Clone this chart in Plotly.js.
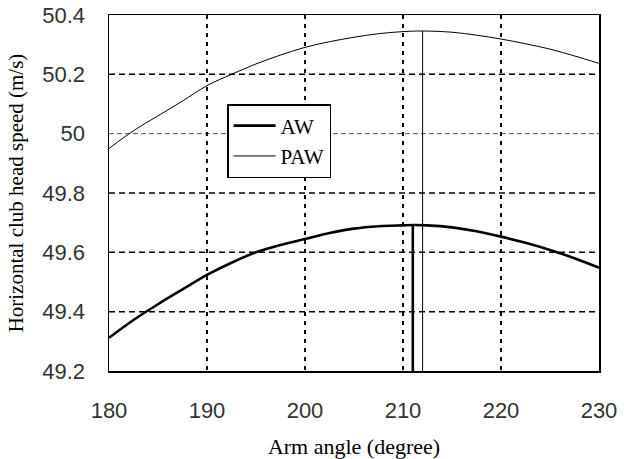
<!DOCTYPE html>
<html>
<head>
<meta charset="utf-8">
<script src="https://cdn.plot.ly/plotly-3.0.1.min.js"></script>
<style>html,body{margin:0;padding:0;background:#fff;}#chart{width:624px;height:459px;}</style>
</head>
<body>
<div id="chart"></div>
<script>
// Arm angle (degree)
const armAngleAW = [180, 182.5, 185, 187.5, 190, 192.5, 195, 197.5, 200, 202.5, 205, 207.5, 210, 211, 212.5, 215, 217.5, 220, 222.5, 225, 227.5, 230];
const speedAW    = [49.312, 49.372, 49.425, 49.475, 49.524, 49.565, 49.600, 49.625, 49.645, 49.665, 49.680, 49.688, 49.691, 49.692, 49.691, 49.684, 49.671, 49.653, 49.632, 49.608, 49.580, 49.548];
const armAnglePAW = [180, 182.5, 185, 187.5, 190, 192.5, 195, 197.5, 200, 202.5, 205, 207.5, 210, 212, 215, 217.5, 220, 222.5, 225, 227.5, 230];
const speedPAW    = [49.95, 50.01, 50.06, 50.11, 50.162, 50.20, 50.235, 50.265, 50.291, 50.31, 50.325, 50.337, 50.344, 50.346, 50.342, 50.332, 50.319, 50.303, 50.285, 50.262, 50.237];
const xTicks = [180, 190, 200, 210, 220, 230];
const yTicks = [49.2, 49.4, 49.6, 49.8, 50, 50.2, 50.4];
const seriesNames = ['AW', 'PAW'];

const yMin = yTicks[0], yMax = yTicks[yTicks.length - 1];
function peakIdx(arr) { let m = 0; arr.forEach((v, i) => { if (v > arr[m]) m = i; }); return m; }
const iAW = peakIdx(speedAW), iPAW = peakIdx(speedPAW);

const traces = [
  {x: armAngleAW, y: speedAW, mode: 'lines', name: seriesNames[0], line: {color: '#000', width: 2.6, shape: 'spline'}},
  {x: armAnglePAW, y: speedPAW, mode: 'lines', name: seriesNames[1], line: {color: '#000', width: 1, shape: 'spline'}},
  {x: [armAngleAW[iAW], armAngleAW[iAW]], y: [yMin, speedAW[iAW]], mode: 'lines', showlegend: false, line: {color: '#000', width: 2.6}},
  {x: [armAnglePAW[iPAW], armAnglePAW[iPAW]], y: [yMin, speedPAW[iPAW]], mode: 'lines', showlegend: false, line: {color: '#000', width: 1}}
];

const shapes = yTicks.slice(1, -1).map(v => ({
  type: 'line', xref: 'paper', x0: 0, x1: 1, yref: 'y', y0: v, y1: v, layer: 'below',
  line: {color: v === 50 ? '#555' : '#000', width: v === 50 ? 1 : 1.5, dash: v === 50 ? '5px,3px' : '6px,4px'}
}));

const tickFont = {family: '"Liberation Sans Narrow", "Liberation Sans", Arial, sans-serif', size: 22, color: '#333'};
const serif = '"Liberation Serif", "Times New Roman", serif';

const layout = {
  width: 624, height: 459,
  margin: {l: 109, r: 25, t: 15, b: 88},
  paper_bgcolor: '#fff', plot_bgcolor: '#fff',
  showlegend: true,
  legend: {x: 0.241, y: 0.75, xanchor: 'left', yanchor: 'top', bgcolor: '#fff', bordercolor: '#000', borderwidth: 1.5,
           font: {family: serif, size: 21, color: '#000'}, tracegroupgap: 0, itemwidth: 42},
  xaxis: {range: [xTicks[0], xTicks[xTicks.length - 1]], tickvals: xTicks, ticktext: xTicks.map(String),
          showgrid: true, gridcolor: '#000', gridwidth: 1.5, griddash: '4px,5px',
          showline: true, linecolor: '#000', linewidth: 1.5, mirror: true, zeroline: false,
          ticks: '', ticklabelstandoff: 19, tickfont: tickFont,
          title: {text: 'Arm angle (degree)', font: {family: serif, size: 22, color: '#000'}, standoff: 18}},
  yaxis: {range: [yMin, yMax], tickvals: yTicks, ticktext: yTicks.map(v => String(v)),
          showgrid: false,
          showline: true, linecolor: '#000', linewidth: 1.5, mirror: true, zeroline: false,
          ticks: '', ticklabelstandoff: 18, tickfont: tickFont,
          title: {text: 'Horizontal club head speed (m/s)', font: {family: serif, size: 21, color: '#000'}, standoff: 13}},
  shapes: shapes
};

Plotly.newPlot('chart', traces, layout, {displayModeBar: false, staticPlot: true});
</script>
</body>
</html>
